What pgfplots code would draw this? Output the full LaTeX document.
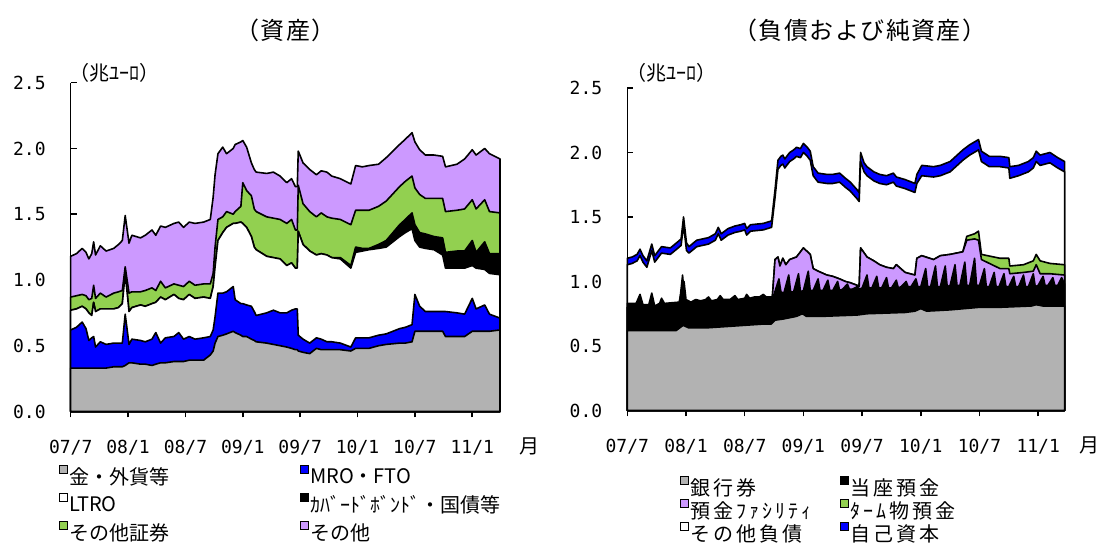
\documentclass[border=0pt]{standalone}
\usepackage{fontspec}
\setmainfont{Noto Sans CJK JP}
\newfontfamily\jp{Noto Sans CJK JP}
\newfontfamily\jpls[LetterSpace=15]{Noto Sans CJK JP}
\newfontfamily\jptl[LetterSpace=6]{Noto Sans CJK JP}
\newfontfamily\mono{DejaVu Sans Mono}
\usepackage{pgfplots}
\usepackage{pgfplotstable}
\pgfplotsset{compat=1.18}
\definecolor{cgrey}{RGB}{178,178,178}
\definecolor{cblue}{RGB}{0,0,255}
\definecolor{cgreen}{RGB}{146,208,80}
\definecolor{cpurple}{RGB}{204,153,255}

% cumulative tops (trillion euro), x = months since 2007/7
\pgfplotstableread{
m L1 L2 L3 L4 L5 L6
0.0 0.33 0.62 0.77 0.77 0.87 1.18
0.6 0.33 0.64 0.78 0.78 0.88 1.20
1.2 0.33 0.68 0.80 0.80 0.89 1.24
1.6 0.33 0.63 0.78 0.78 0.88 1.21
1.9 0.33 0.54 0.75 0.75 0.85 1.16
2.2 0.33 0.56 0.73 0.73 0.86 1.20
2.4 0.33 0.57 0.83 0.83 0.96 1.29
2.6 0.33 0.49 0.76 0.76 0.86 1.19
3.1 0.33 0.53 0.78 0.78 0.90 1.26
3.7 0.33 0.51 0.78 0.78 0.87 1.22
4.5 0.34 0.52 0.78 0.78 0.90 1.24
5.0 0.34 0.52 0.79 0.79 0.91 1.27
5.4 0.34 0.52 0.82 0.82 0.92 1.30
5.7 0.35 0.74 1.05 1.05 1.10 1.49
6.1 0.37 0.51 0.76 0.76 0.90 1.28
6.4 0.37 0.55 0.79 0.79 0.91 1.34
7.3 0.36 0.54 0.81 0.81 0.91 1.32
7.8 0.36 0.53 0.80 0.80 0.92 1.34
8.5 0.35 0.55 0.82 0.82 0.94 1.38
8.9 0.36 0.60 0.83 0.83 0.92 1.34
9.4 0.37 0.52 0.87 0.87 0.99 1.41
9.9 0.37 0.56 0.85 0.85 0.94 1.40
10.8 0.38 0.57 0.89 0.89 0.97 1.43
11.3 0.38 0.60 0.86 0.86 0.96 1.44
11.8 0.38 0.55 0.85 0.85 0.95 1.40
12.4 0.39 0.57 0.89 0.89 0.99 1.44
13.0 0.39 0.55 0.86 0.86 0.96 1.43
13.9 0.39 0.56 0.87 0.87 0.97 1.44
14.6 0.43 0.57 0.86 0.86 0.97 1.46
14.9 0.46 0.62 0.95 0.95 1.05 1.63
15.1 0.52 0.72 1.10 1.10 1.25 1.80
15.4 0.57 0.90 1.30 1.30 1.46 1.96
15.9 0.58 0.90 1.36 1.36 1.48 2.01
16.3 0.59 0.91 1.40 1.40 1.52 1.96
17.0 0.61 0.95 1.43 1.43 1.50 2.00
17.2 0.60 0.85 1.43 1.43 1.52 2.03
17.8 0.58 0.82 1.44 1.44 1.56 2.05
18.0 0.57 0.82 1.43 1.43 1.74 2.06
18.4 0.57 0.81 1.40 1.40 1.68 2.01
18.9 0.55 0.80 1.33 1.33 1.64 1.89
19.2 0.54 0.76 1.25 1.25 1.54 1.84
19.4 0.53 0.73 1.23 1.23 1.52 1.82
20.5 0.52 0.75 1.18 1.18 1.48 1.81
21.2 0.51 0.77 1.17 1.17 1.47 1.82
21.9 0.50 0.75 1.16 1.16 1.46 1.79
22.6 0.49 0.75 1.11 1.11 1.43 1.74
23.1 0.48 0.77 1.13 1.13 1.46 1.77
23.5 0.47 0.78 1.09 1.09 1.38 1.71
23.7 0.47 0.78 1.09 1.09 1.38 1.71
23.8 0.46 0.58 1.37 1.37 1.72 1.98
24.3 0.45 0.55 1.27 1.27 1.58 1.89
25.0 0.44 0.52 1.22 1.22 1.52 1.84
25.7 0.48 0.56 1.19 1.19 1.48 1.80
26.2 0.47 0.55 1.20 1.20 1.51 1.83
26.8 0.47 0.53 1.19 1.19 1.48 1.82
27.3 0.47 0.53 1.17 1.17 1.47 1.79
28.2 0.47 0.52 1.16 1.17 1.46 1.77
29.3 0.46 0.49 1.09 1.11 1.42 1.73
29.8 0.48 0.56 1.21 1.25 1.53 1.87
30.5 0.48 0.56 1.22 1.24 1.53 1.86
31.2 0.48 0.56 1.23 1.24 1.53 1.87
32.2 0.50 0.58 1.24 1.27 1.56 1.88
33.0 0.51 0.59 1.25 1.30 1.60 1.93
34.4 0.52 0.63 1.33 1.42 1.71 2.03
35.0 0.52 0.64 1.36 1.46 1.75 2.07
35.7 0.53 0.66 1.39 1.51 1.79 2.12
36.0 0.61 0.89 1.30 1.42 1.70 2.05
36.5 0.61 0.80 1.25 1.36 1.65 1.99
37.1 0.61 0.76 1.24 1.35 1.62 1.95
38.0 0.61 0.76 1.23 1.33 1.62 1.95
38.9 0.61 0.76 1.19 1.32 1.62 1.94
39.2 0.57 0.76 1.09 1.21 1.52 1.86
40.4 0.57 0.75 1.09 1.22 1.53 1.88
41.2 0.57 0.74 1.09 1.22 1.54 1.92
42.0 0.61 0.86 1.11 1.30 1.61 1.99
42.4 0.61 0.78 1.09 1.21 1.54 1.95
43.3 0.61 0.81 1.08 1.29 1.61 2.00
43.8 0.61 0.74 1.05 1.20 1.52 1.96
44.9 0.62 0.71 1.04 1.20 1.51 1.92
}\leftdata

\pgfplotsset{
  panel/.style={
    scale only axis, xmin=0, ymin=0, ymax=2.5,
    axis x line*=bottom, axis y line*=left,
    axis line style={line width=0.8pt},
    xtick={0,6,12,18,24,30,36,42},
    xticklabels={07/7,08/1,08/7,09/1,09/7,10/1,10/7,11/1},
    ytick={0,0.5,1,1.5,2,2.5},
    yticklabels={0.0,0.5,1.0,1.5,2.0,2.5},
    xtick align=outside, ytick align=inside,
    major tick length=3pt,
    tick style={line width=0.8pt, black},
    ticklabel style={font=\mono\fontsize{9}{10}\selectfont},
    xticklabel style={yshift=-8pt},
    yticklabel style={xshift=-9pt},
    clip=false,
    legend cell align=left,
    legend image code/.code={\path[draw=none, fill=none] (0pt,0pt) -- (4.5pt,0pt);
      \draw[##1, line width=0.5pt, overlay] (0pt,2pt) rectangle (4pt,6pt);},
  },
  lay/.style={draw=black, line width=0.8pt, line join=round, fill=#1, forget plot},
}

\begin{document}
\begin{tikzpicture}
\path[use as bounding box] (0,0) rectangle (550pt,272pt);

% ---------- left: assets ----------
\begin{axis}[panel, at={(35.35pt,66.25pt)}, anchor=south west,
  width=214.65pt, height=164.4pt, xmax=44.9,
  legend style={at={(0,0)}, anchor=north west, xshift=-9pt, yshift=-25.5pt,
    draw=none, fill=none, font=\jp\fontsize{10}{12}\selectfont,
    legend columns=2, nodes={inner sep=0.5pt},
    /tikz/column 2/.style={column sep=65pt}, row sep=3pt}]
\addplot[lay=cpurple] table[x=m,y=L6]{\leftdata} \closedcycle;
\addplot[lay=cgreen]  table[x=m,y=L5]{\leftdata} \closedcycle;
\addplot[lay=black]   table[x=m,y=L4]{\leftdata} \closedcycle;
\addplot[lay=white]   table[x=m,y=L3]{\leftdata} \closedcycle;
\addplot[lay=cblue]   table[x=m,y=L2]{\leftdata} \closedcycle;
\addplot[lay=cgrey]   table[x=m,y=L1]{\leftdata} \closedcycle;
\addlegendimage{fill=cgrey}   \addlegendentry{金・外貨等}
\addlegendimage{fill=cblue}   \addlegendentry{MRO・FTO}
\addlegendimage{fill=white}   \addlegendentry{LTRO}
\addlegendimage{fill=black}   \addlegendentry{ｶﾊﾞｰﾄﾞﾎﾞﾝﾄﾞ・国債等}
\addlegendimage{fill=cgreen}  \addlegendentry{その他証券}
\addlegendimage{fill=cpurple} \addlegendentry{その他}
\node[font=\jp\fontsize{10}{11}\selectfont, anchor=west, yshift=5pt, xshift=-4pt] at (rel axis cs:0,1) {（兆ﾕｰﾛ）};
\node[font=\jptl\fontsize{12}{13}\selectfont, yshift=26pt] at (rel axis cs:0.5,1) {（資産）};
\node[font=\jp\fontsize{10}{12}\selectfont, yshift=-17.5pt] at (axis cs:48,0) {月};
\end{axis}

% ---------- right: liabilities ----------
\begin{axis}[panel, at={(313.65pt,66.75pt)}, anchor=south west,
  width=218.65pt, height=161.25pt, xmax=44.7,
  legend style={at={(0,0)}, anchor=north west, xshift=23.5pt, yshift=-31.5pt,
    draw=none, fill=none, font=\jpls\fontsize{10}{12}\selectfont,
    legend columns=2, nodes={inner sep=0.5pt},
    /tikz/column 2/.style={column sep=14pt}, row sep=0.5pt}]
% capital (top)
\addplot[lay=cblue] coordinates {(0,1.18) (0.5,1.19) (1.0,1.21) (1.3,1.25) (1.6,1.20) (2.0,1.16) (2.5,1.29) (2.8,1.20) (3.5,1.27) (4.4,1.26) (5.2,1.31) (5.5,1.33) (5.75,1.50) (6.05,1.30) (6.3,1.27) (7.1,1.32) (8.3,1.34) (9.0,1.37) (9.3,1.42) (9.6,1.37) (10.3,1.41) (11.0,1.43) (11.6,1.44) (12.0,1.45) (12.2,1.41) (12.6,1.44) (13.9,1.45) (14.75,1.47) (15.1,1.71) (15.4,1.94) (15.7,1.97) (15.9,1.98) (16.1,1.95) (16.6,2.00) (17.0,2.02) (17.3,2.04) (17.7,2.03) (18.0,2.07) (18.4,2.04) (18.7,2.01) (19.0,1.89) (19.5,1.84) (20.4,1.83) (21.0,1.83) (21.7,1.84) (22.3,1.80) (22.8,1.77) (23.5,1.71) (23.7,1.69) (23.85,2.00) (24.2,1.92) (24.5,1.89) (25.2,1.85) (25.8,1.83) (26.5,1.82) (27.2,1.84) (27.5,1.81) (28.4,1.79) (29.4,1.76) (29.6,1.83) (30.1,1.90) (31.3,1.89) (32.0,1.90) (33.0,1.93) (34.3,2.02) (35.0,2.06) (35.9,2.10) (36.2,2.01) (37.0,1.97) (38.1,1.97) (39.0,1.96) (39.1,1.89) (40.0,1.90) (41.0,1.93) (41.5,1.96) (41.8,2.01) (42.2,1.98) (43.2,2.00) (44.0,1.96) (44.7,1.93)} \closedcycle;
% other liabilities
\addplot[lay=white] coordinates {(0,1.13) (0.5,1.14) (1.0,1.16) (1.3,1.20) (1.6,1.15) (2.0,1.11) (2.5,1.24) (2.8,1.15) (3.5,1.22) (4.4,1.21) (5.2,1.26) (5.5,1.28) (5.75,1.44) (6.05,1.24) (6.3,1.22) (7.1,1.27) (8.3,1.29) (9.0,1.32) (9.3,1.37) (9.6,1.32) (10.3,1.36) (11.0,1.38) (11.6,1.39) (12.0,1.40) (12.2,1.36) (12.6,1.39) (13.9,1.40) (14.75,1.42) (15.1,1.65) (15.4,1.87) (15.7,1.90) (15.9,1.91) (16.1,1.88) (16.6,1.93) (17.0,1.95) (17.3,1.97) (17.7,1.96) (18.0,2.00) (18.4,1.97) (18.7,1.94) (19.0,1.82) (19.5,1.77) (20.4,1.76) (21.0,1.76) (21.7,1.77) (22.3,1.73) (22.8,1.70) (23.5,1.64) (23.7,1.62) (23.85,1.93) (24.2,1.85) (24.5,1.82) (25.2,1.78) (25.8,1.76) (26.5,1.75) (27.2,1.77) (27.5,1.74) (28.4,1.72) (29.4,1.69) (29.6,1.76) (30.1,1.82) (31.3,1.81) (32.0,1.82) (33.0,1.85) (34.3,1.94) (35.0,1.98) (35.9,2.02) (36.2,1.93) (37.0,1.89) (38.1,1.89) (39.0,1.88) (39.1,1.80) (40.0,1.82) (41.0,1.85) (41.5,1.88) (41.8,1.93) (42.2,1.90) (43.2,1.92) (44.0,1.88) (44.7,1.85)} \closedcycle;
% term deposits
\addplot[lay=cgreen] coordinates {(0,0.80) (5.3,0.80) (5.65,1.05) (5.85,0.86) (6.1,0.80) (14.8,0.85) (15.1,1.17) (15.4,1.19) (15.6,1.12) (15.9,1.18) (16.2,1.13) (16.6,1.17) (17.3,1.19) (18.0,1.26) (18.7,1.21) (19.0,1.10) (19.5,1.08) (20.4,1.05) (21.0,1.04) (21.7,1.02) (22.3,1.00) (22.8,0.99) (23.5,0.97) (23.7,0.96) (23.85,1.26) (24.5,1.19) (25.2,1.16) (25.8,1.13) (26.5,1.11) (27.2,1.10) (27.5,1.13) (28.4,1.07) (29.4,1.05) (29.6,1.18) (30.1,1.20) (31.3,1.17) (32.0,1.20) (33.0,1.21) (34.3,1.23) (34.7,1.35) (35.5,1.37) (35.9,1.39) (36.2,1.21) (38.1,1.18) (39.0,1.18) (39.1,1.12) (40.5,1.13) (41.5,1.16) (41.8,1.21) (42.2,1.16) (43.2,1.14) (44.7,1.13)} \closedcycle;
% deposit facility
\addplot[lay=cpurple] coordinates {(0,0.80) (14.8,0.85) (15.1,1.17) (15.4,1.19) (15.6,1.12) (15.9,1.18) (16.2,1.13) (16.6,1.17) (17.3,1.19) (18.0,1.26) (18.7,1.21) (19.0,1.10) (19.5,1.08) (20.4,1.05) (21.0,1.04) (21.7,1.02) (22.3,1.00) (22.8,0.99) (23.5,0.97) (23.7,0.96) (23.85,1.26) (24.5,1.19) (25.2,1.16) (25.8,1.13) (26.5,1.11) (27.2,1.10) (27.5,1.13) (28.4,1.07) (29.4,1.05) (29.6,1.18) (30.1,1.20) (31.3,1.17) (32.0,1.20) (33.0,1.21) (34.3,1.23) (34.7,1.32) (35.5,1.33) (35.9,1.32) (36.2,1.17) (38.1,1.10) (39.0,1.10) (39.1,1.06) (40.5,1.07) (41.5,1.08) (41.8,1.13) (42.2,1.06) (43.2,1.06) (44.7,1.05)} \closedcycle;
% current accounts
\addplot[lay=black] coordinates {(0,0.83) (0.9,0.83) (1.3,0.90) (1.6,0.82) (2.2,0.82) (2.5,0.91) (2.8,0.81) (3.3,0.83) (3.5,0.87) (3.8,0.83) (5.3,0.84) (5.6,0.95) (5.8,1.00) (6.0,0.86) (6.5,0.84) (7.0,0.86) (7.5,0.85) (8.0,0.86) (8.3,0.88) (8.6,0.85) (9.2,0.86) (9.5,0.89) (9.8,0.86) (10.5,0.86) (11.0,0.89) (11.3,0.86) (12.0,0.87) (12.2,0.90) (12.5,0.87) (13.0,0.88) (13.5,0.88) (13.9,0.90) (14.2,0.88) (14.8,0.88)
 (15.0,0.90) (15.5,1.02) (15.7,0.92) (16.0,0.91) (16.5,1.05) (16.7,0.92) (17.0,0.92) (17.5,1.06) (17.7,0.92) (18.0,0.93) (18.5,1.08) (18.7,0.93) (19.0,0.93) (19.5,1.02) (19.7,0.93) (20.0,0.93) (20.5,1.01) (20.7,0.93) (21.0,0.93) (21.5,1.00) (21.7,0.93) (22.0,0.94) (22.5,0.98) (22.7,0.94) (23.0,0.94) (23.5,0.96) (23.7,0.94) (24.0,0.95) (24.5,1.05) (24.7,0.95) (25.0,0.95) (25.5,1.04) (25.7,0.95) (26.0,0.95) (26.5,1.03) (26.7,0.95) (27.0,0.95) (27.5,1.01) (27.7,0.95) (28.0,0.96) (28.5,1.00) (28.7,0.96) (29.0,0.96) (29.5,1.02) (29.7,0.96) (30.0,0.96) (30.5,1.10) (30.7,0.96) (31.0,0.96) (31.5,1.12) (31.7,0.96) (32.0,0.96) (32.5,1.12) (32.7,0.96) (33.0,0.97) (33.5,1.13) (33.7,0.97) (34.0,0.97) (34.5,1.15) (34.7,0.97) (35.0,0.97) (35.5,1.18) (35.7,0.97) (36.0,0.97) (36.5,1.10) (36.7,0.96) (37.0,0.96) (37.5,1.07) (37.7,0.96) (38.0,0.96) (38.5,1.06) (38.7,0.96) (39.0,0.96) (39.5,1.04) (39.7,0.96) (40.0,0.96) (40.5,1.05) (40.7,0.96) (41.0,0.96) (41.5,1.06) (41.7,0.96) (42.0,0.97) (42.5,1.04) (42.7,0.97) (43.0,0.97) (43.5,1.03) (43.7,0.97) (44.0,0.97) (44.4,1.03) (44.7,0.98)} \closedcycle;
% banknotes
\addplot[lay=cgrey] coordinates {(0,0.62) (3.0,0.62) (5.0,0.62) (5.7,0.66) (6.3,0.64) (8.0,0.64) (10.0,0.65) (13.9,0.67) (14.7,0.67) (15.1,0.70) (16.0,0.71) (17.3,0.73) (17.9,0.75) (18.3,0.73) (20.0,0.73) (23.5,0.74) (24.5,0.75) (28.4,0.76) (29.4,0.77) (30.0,0.79) (30.6,0.77) (33.0,0.78) (36.0,0.80) (38.1,0.80) (41.3,0.81) (41.8,0.82) (42.5,0.81) (44.7,0.81)} \closedcycle;
\addlegendimage{fill=cgrey}   \addlegendentry{銀行券}
\addlegendimage{fill=black}   \addlegendentry{当座預金}
\addlegendimage{fill=cpurple} \addlegendentry{預金ﾌｧｼﾘﾃｨ}
\addlegendimage{fill=cgreen}  \addlegendentry{ﾀｰﾑ物預金}
\addlegendimage{fill=white}   \addlegendentry{その他負債}
\addlegendimage{fill=cblue}   \addlegendentry{自己資本}
\node[font=\jp\fontsize{10}{11}\selectfont, anchor=west, yshift=7.5pt, xshift=-4pt] at (rel axis cs:0,1) {（兆ﾕｰﾛ）};
\node[font=\jptl\fontsize{12}{13}\selectfont, yshift=29pt, xshift=7pt] at (rel axis cs:0.5,1) {（負債および純資産）};
\node[font=\jp\fontsize{10}{12}\selectfont, yshift=-17.5pt] at (axis cs:47.2,0) {月};
\end{axis}
\end{tikzpicture}
\end{document}
